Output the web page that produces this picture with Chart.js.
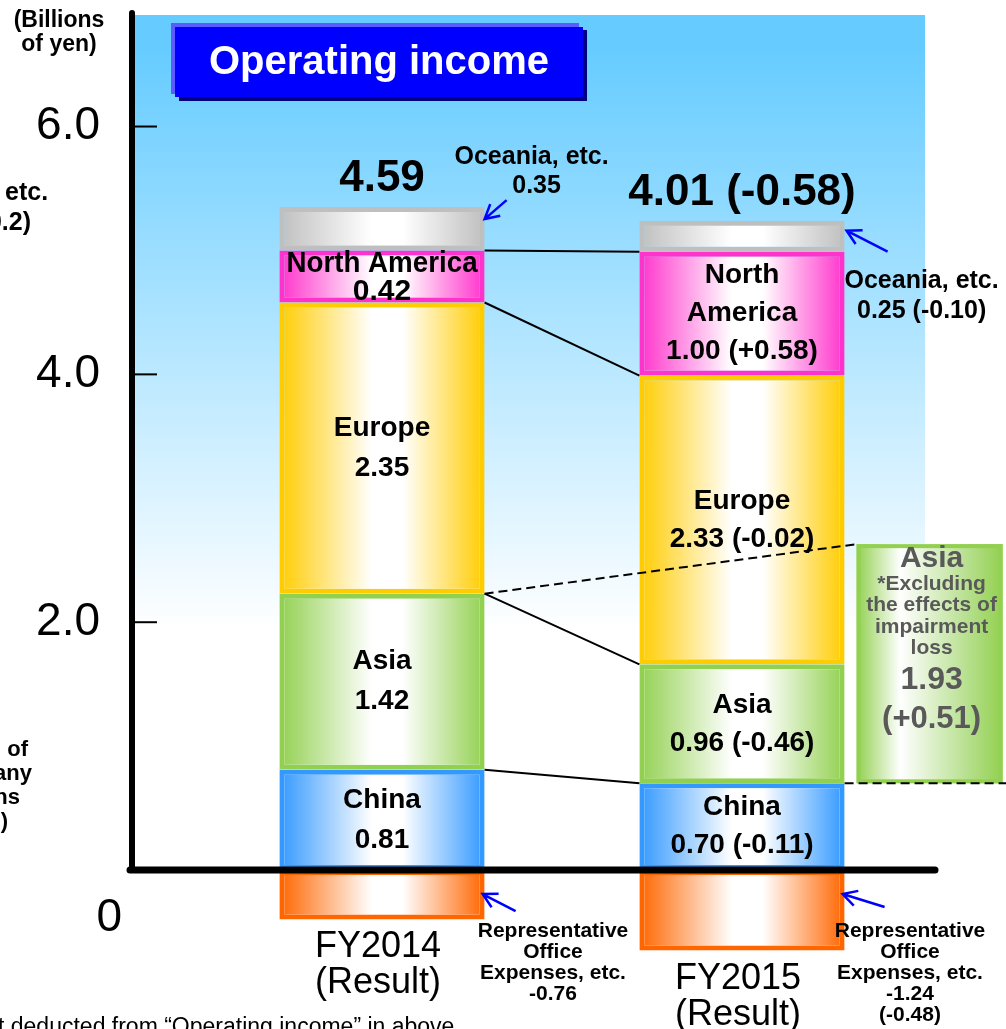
<!DOCTYPE html>
<html>
<head>
<meta charset="utf-8">
<title>Operating income</title>
<script src="https://cdn.jsdelivr.net/npm/chart.js@4.4.1/dist/chart.umd.min.js"></script>
<style>
  html, body { margin: 0; padding: 0; background: #fff; }
  #wrap { width: 1006px; height: 1029px; position: relative; }
</style>
</head>
<body>
<div id="wrap"><canvas id="operatingIncome"></canvas></div>
<script>
// Values (billions of yen)
const years = ['FY2014', 'FY2015'];
const yearNote = '(Result)';
const china = [0.81, 0.70];
const asia = [1.42, 0.96];
const europe = [2.35, 2.33];
const northAmerica = [0.42, 1.00];
const oceania = [0.35, 0.25];
const officeExpenses = [-0.76, -1.24];
const totals = [4.59, 4.01];
const asiaExImpairment = 1.93;
const yTicks = [6.0, 4.0, 2.0, 0];

const seriesNames = ['China', 'Asia', 'Europe', 'North America', 'Oceania, etc.'];
const seriesValues = [china, asia, europe, northAmerica, oceania];
const seriesColors = ['#3399FF', '#92D050', '#FFCC00', '#FF33CC', '#BFBFBF'];
const expenseColor = '#FF6600';

const FONT = '"Liberation Sans", Arial, sans-serif';
const BAR_PCT = 0.57;

function signed(v) {
  const s = v.toFixed(2);
  return v > 0 ? '+' + s : s;
}

// horizontal gradient: solid colour at the edges, white in the middle
function barGradient(context, color) {
  const chart = context.chart;
  if (!chart.chartArea || context.dataIndex === undefined) return color;
  const xs = chart.scales.x;
  const cx = xs.getPixelForValue(context.dataIndex);
  const half = xs.width / years.length * BAR_PCT / 2;
  const g = chart.ctx.createLinearGradient(cx - half, 0, cx + half, 0);
  g.addColorStop(0, color);
  g.addColorStop(0.45, '#FFFFFF');
  g.addColorStop(0.6, '#FFFFFF');
  g.addColorStop(1, color);
  return g;
}

function segment(label, data, color, axis) {
  return {
    label: label,
    data: data,
    yAxisID: axis,
    borderColor: color,
    borderWidth: 5,
    borderSkipped: false,
    backgroundColor: (ctx) => barGradient(ctx, color),
    barPercentage: BAR_PCT,
    categoryPercentage: 1
  };
}

function text(ctx, str, x, y, font, color, align, maxW) {
  ctx.font = font;
  ctx.fillStyle = color || '#000';
  ctx.textAlign = align || 'center';
  ctx.textBaseline = 'middle';
  if (maxW) ctx.fillText(str, x, y, maxW);
  else ctx.fillText(str, x, y);
}

function line(ctx, x1, y1, x2, y2) {
  ctx.beginPath();
  ctx.moveTo(x1, y1);
  ctx.lineTo(x2, y2);
  ctx.stroke();
}

function arrow(ctx, x1, y1, x2, y2) {
  const a = Math.atan2(y2 - y1, x2 - x1), h = 16;
  ctx.beginPath();
  ctx.moveTo(x1, y1);
  ctx.lineTo(x2, y2);
  ctx.moveTo(x2 - h * Math.cos(a - 0.5), y2 - h * Math.sin(a - 0.5));
  ctx.lineTo(x2, y2);
  ctx.lineTo(x2 - h * Math.cos(a + 0.5), y2 - h * Math.sin(a + 0.5));
  ctx.stroke();
}

function segmentLines(d, i) {
  const vals = seriesValues[d];
  const name = seriesNames[d];
  if (i === 0) return [name, vals[0].toFixed(2)];
  const txt = vals[1].toFixed(2) + ' (' + signed(vals[1] - vals[0]) + ')';
  if (name === 'North America') return ['North', 'America', txt];
  return [name, txt];
}

const decor = {
  id: 'decor',
  beforeDatasetsDraw(chart) {
    const { ctx, chartArea, scales } = chart;
    const zeroY = scales.y.getPixelForValue(0);
    const axisX = chartArea.left - 70;
    const g = ctx.createLinearGradient(0, chartArea.top, 0, zeroY);
    g.addColorStop(0, '#66CCFF');
    g.addColorStop(0.04, '#66CCFF');
    g.addColorStop(0.72, '#FFFFFF');
    g.addColorStop(1, '#FFFFFF');
    ctx.save();
    ctx.fillStyle = g;
    ctx.fillRect(axisX, chartArea.top, chartArea.right + 3 - axisX, zeroY - chartArea.top);
    ctx.restore();
  },
  afterDatasetsDraw(chart) {
    const { ctx, chartArea, scales } = chart;
    const ys = scales.y;
    const zeroY = ys.getPixelForValue(0);
    const axisX = chartArea.left - 70;
    const bars = seriesValues.map((v, d) => chart.getDatasetMeta(d).data);
    const neg = chart.getDatasetMeta(seriesValues.length).data;
    ctx.save();

    // lines joining the segment tops of both years
    ctx.strokeStyle = '#000';
    ctx.lineWidth = 2;
    for (let d = 0; d < 4; d++) {
      const a = bars[d][0], b = bars[d][1];
      line(ctx, a.x + a.width / 2, a.y, b.x - b.width / 2, b.y);
    }

    // Asia excluding impairment loss box
    const c1 = bars[0][1];
    const boxL = c1.x + c1.width / 2 + 12;
    const boxR = boxL + 146;
    const boxB = ys.getPixelForValue(china[1]);
    const boxT = ys.getPixelForValue(china[1] + asiaExImpairment);
    const bg = ctx.createLinearGradient(boxL, 0, boxR, 0);
    bg.addColorStop(0, '#92D050');
    bg.addColorStop(0.3, '#FFFFFF');
    bg.addColorStop(0.75, '#B8E090');
    bg.addColorStop(1, '#92D050');
    ctx.fillStyle = bg;
    ctx.fillRect(boxL, boxT, boxR - boxL, boxB - boxT);
    ctx.strokeStyle = '#92D050';
    ctx.lineWidth = 4;
    ctx.strokeRect(boxL + 2, boxT + 2, boxR - boxL - 4, boxB - boxT - 4);
    const bx = (boxL + boxR) / 2 + 2;
    const grey = '#595959';
    text(ctx, 'Asia', bx, boxT + 15, 'bold 30px ' + FONT, grey);
    text(ctx, '*Excluding', bx, boxT + 40, 'bold 21px ' + FONT, grey);
    text(ctx, 'the effects of', bx, boxT + 61, 'bold 21px ' + FONT, grey);
    text(ctx, 'impairment', bx, boxT + 83, 'bold 21px ' + FONT, grey);
    text(ctx, 'loss', bx, boxT + 104, 'bold 21px ' + FONT, grey);
    text(ctx, asiaExImpairment.toFixed(2), bx, boxT + 136, 'bold 32px ' + FONT, grey);
    text(ctx, '(' + signed(asiaExImpairment - asia[0]) + ')', bx, boxT + 175, 'bold 31px ' + FONT, grey);

    // dashed guides to the Asia box
    ctx.strokeStyle = '#000';
    ctx.lineWidth = 2;
    ctx.setLineDash([9, 5]);
    const a0 = bars[1][0];
    line(ctx, a0.x + a0.width / 2, a0.y, boxL, boxT);
    line(ctx, c1.x + c1.width / 2, c1.y, chart.width, c1.y);
    ctx.setLineDash([]);

    // segment labels
    bars.forEach((els, d) => {
      if (d === 4) return;
      els.forEach((el, i) => {
        const lines = segmentLines(d, i);
        const mid = (el.y + el.base) / 2;
        if (i === 0 && d === 3) {
          text(ctx, lines[0], el.x, mid - 13, 'bold 30px ' + FONT, '#000', 'center', el.width - 14);
          text(ctx, lines[1], el.x, mid + 15, 'bold 30px ' + FONT);
          return;
        }
        const gap = i === 0 ? 40 : 38;
        lines.forEach((t, k) => {
          text(ctx, t, el.x, mid + (k - (lines.length - 1) / 2) * gap, 'bold 28px ' + FONT);
        });
      });
    });

    // totals above the bars
    totals.forEach((t, i) => {
      const top = bars[4][i].y;
      const str = i === 0 ? t.toFixed(2) : t.toFixed(2) + ' (' + signed(totals[1] - totals[0]) + ')';
      text(ctx, str, bars[4][i].x, top - 28, 'bold 44px ' + FONT);
    });

    // axes
    ctx.strokeStyle = '#000';
    ctx.lineCap = 'round';
    ctx.lineWidth = 6;
    line(ctx, axisX, chartArea.top - 2, axisX, zeroY);
    ctx.lineWidth = 7;
    line(ctx, axisX - 2, zeroY, chartArea.right + 13, zeroY);
    ctx.lineCap = 'butt';
    ctx.lineWidth = 2;
    yTicks.forEach((v) => {
      const py = ys.getPixelForValue(v);
      if (v === 0) {
        text(ctx, '0', axisX - 10, py + 48, '46px ' + FONT, '#000', 'right');
        return;
      }
      line(ctx, axisX + 3, py, axisX + 25, py);
      text(ctx, v.toFixed(1), axisX - 32, py, '46px ' + FONT, '#000', 'right');
    });

    // year labels under the expense bars (bottom edge of a negative bar is el.y)
    neg.forEach((el, i) => {
      const bottom = Math.max(el.y, el.base);
      text(ctx, years[i], el.x - 4, bottom + 28, '36px ' + FONT);
      text(ctx, yearNote, el.x - 4, bottom + 64, '36px ' + FONT);
    });

    // arrows and call-outs
    ctx.strokeStyle = '#0000FF';
    ctx.lineWidth = 2.5;
    const o0 = bars[4][0], o1 = bars[4][1];
    let tx = o0.x + o0.width / 2, ty = o0.y + 12;
    arrow(ctx, tx + 22, ty - 19, tx, ty);
    text(ctx, 'Oceania, etc.', tx + 47, ty - 62, 'bold 25px ' + FONT);
    text(ctx, oceania[0].toFixed(2), tx + 52, ty - 33, 'bold 25px ' + FONT);
    tx = o1.x + o1.width / 2 + 2; ty = o1.y + 10;
    arrow(ctx, tx + 41, ty + 21, tx, ty);
    text(ctx, 'Oceania, etc.', tx + 75, ty + 50, 'bold 25px ' + FONT);
    text(ctx, oceania[1].toFixed(2) + ' (' + signed(oceania[1] - oceania[0]) + ')', tx + 75, ty + 80, 'bold 25px ' + FONT);

    const callouts = [
      ['Representative', 'Office', 'Expenses, etc.', officeExpenses[0].toFixed(2)],
      ['Representative', 'Office', 'Expenses, etc.', officeExpenses[1].toFixed(2), '(' + signed(officeExpenses[1] - officeExpenses[0]) + ')']
    ];
    const calloutX = [553, 910];
    neg.forEach((el, i) => {
      const px = el.x + el.width / 2 - 2, py = Math.min(el.y, el.base) + 24;
      arrow(ctx, px + (i === 0 ? 33 : 42), py + (i === 0 ? 17 : 13), px, py);
      callouts[i].forEach((t, k) => {
        text(ctx, t, calloutX[i], 931 + k * 21, 'bold 21px ' + FONT);
      });
    });
    ctx.restore();
  },
  afterDraw(chart) {
    const ctx = chart.ctx;
    ctx.save();
    // title box
    ctx.fillStyle = '#5B5BFF';
    ctx.fillRect(171, 23, 408, 71);
    ctx.fillStyle = '#000080';
    ctx.fillRect(179, 30, 408, 71);
    ctx.fillStyle = '#0000FF';
    ctx.fillRect(175, 27, 408, 70);
    text(ctx, 'Operating income', 379, 63, 'bold 40px ' + FONT, '#FFFFFF');

    text(ctx, '(Billions', 59, 21, 'bold 23px ' + FONT);
    text(ctx, 'of yen)', 59, 45, 'bold 23px ' + FONT);

    // text cut off at the slide edge
    text(ctx, 'etc.', 5, 193, 'bold 25px ' + FONT, '#000', 'left');
    text(ctx, '0.2)', 31, 223, 'bold 25px ' + FONT, '#000', 'right');
    text(ctx, 'of', 28, 750, 'bold 22px ' + FONT, '#000', 'right');
    text(ctx, 'any', 32, 774, 'bold 22px ' + FONT, '#000', 'right');
    text(ctx, 'ns', 20, 798, 'bold 22px ' + FONT, '#000', 'right');
    text(ctx, ')', 8, 822, 'bold 22px ' + FONT, '#000', 'right');
    ctx.font = '23px ' + FONT;
    ctx.textAlign = 'left';
    ctx.textBaseline = 'alphabetic';
    ctx.fillStyle = '#000';
    ctx.fillText('t deducted from \u201COperating income\u201D in above', -2, 1034);
    ctx.restore();
  }
};

const datasets = seriesNames.map((name, d) => segment(name, seriesValues[d], seriesColors[d], 'y'));
datasets.push(segment('Representative Office Expenses, etc.', officeExpenses, expenseColor, 'yNeg'));

new Chart(document.getElementById('operatingIncome'), {
  type: 'bar',
  data: { labels: years, datasets: datasets },
  options: {
    responsive: true,
    maintainAspectRatio: false,
    animation: false,
    layout: { padding: { left: 202, right: 84, top: 15, bottom: 68 } },
    plugins: { legend: { display: false }, tooltip: { enabled: false } },
    scales: {
      x: { stacked: true, display: false },
      // left boxes are laid out in reverse order, so the lower axis comes first
      yNeg: { stacked: true, display: false, min: -1.4, max: 0, stack: 'v', stackWeight: 1.4 * 65 },
      y: { stacked: true, display: false, min: 0, max: 6.9, stack: 'v', stackWeight: 6.9 * 124 }
    }
  },
  plugins: [decor]
});
</script>
</body>
</html>
